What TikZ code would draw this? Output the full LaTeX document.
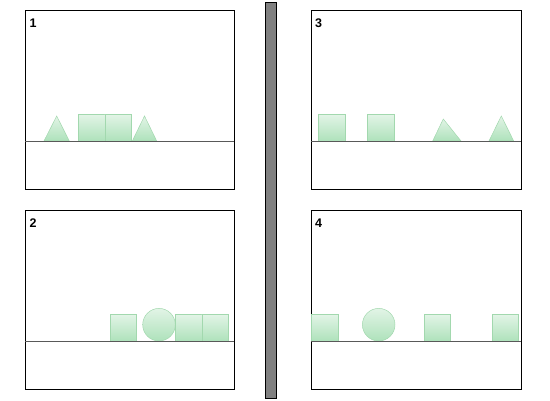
\documentclass[tikz,border=0pt]{standalone}
\usepackage{fontspec}
\setmainfont{Liberation Sans}
\definecolor{shtop}{HTML}{E2F4E6}
\definecolor{shbot}{HTML}{AEE2BB}
\definecolor{shedge}{HTML}{A2D8AE}
\tikzset{
  panel/.style={draw=black, line width=0.9pt},
  ground/.style={draw=black!65, line width=0.6pt},
  piece/.style={draw=shedge, line width=0.5pt, top color=shtop, bottom color=shbot},
  numlabel/.style={anchor=base west, inner sep=0pt, font=\fontsize{12.5}{14}\selectfont\bfseries},
  divider/.style={draw=black, line width=0.9pt, fill=black!50}
}
\begin{document}
\begin{tikzpicture}[x=1pt,y=1pt]
\useasboundingbox (0,0) rectangle (550,400);
% divider bar
\draw[divider] (265.3,1.7) rectangle (276.7,397.7);
% panel frames
\draw[panel] (25,211) rectangle (234.3,390);
\draw[panel] (311,211) rectangle (521,390);
\draw[panel] (25,11) rectangle (234.3,190);
\draw[panel] (311,11) rectangle (521,190);
% labels
\node[numlabel] (l1) at (29.5,372.3) {1};
\node[numlabel] (l3) at (315,372.3) {3};
\node[numlabel] (l2) at (29.5,172.3) {2};
\node[numlabel] (l4) at (315,172.3) {4};
% panel 1
\draw[piece] (44,259) -- (69.3,259) -- (56.7,284) -- cycle;
\draw[piece] (78.3,259) rectangle (104.9,285.7);
\draw[piece] (104.9,259) rectangle (131.5,285.7);
\draw[piece] (132.3,259) -- (156.7,259) -- (144.5,284) -- cycle;
\draw[ground] (25,259) -- (234.3,259);
% panel 3
\draw[piece] (318.3,259) rectangle (344.8,285.5);
\draw[piece] (367.7,259) rectangle (394.2,285.5);
\draw[piece] (432.7,259) -- (461,259) -- (443.3,281) -- cycle;
\draw[piece] (489,259) -- (513.7,259) -- (501.3,284) -- cycle;
\draw[ground] (311,259) -- (521,259);
% panel 2
\draw[piece] (110,59) rectangle (136.5,85.5);
\draw[piece] (159,75.3) circle (16.3);
\draw[piece] (175.3,59) rectangle (201.8,85.5);
\draw[piece] (201.8,59) rectangle (228.3,85.5);
\draw[ground] (25,59) -- (234.3,59);
% panel 4
\draw[piece] (311.7,59) rectangle (338.2,85.5);
\draw[piece] (378.7,75.3) circle (16.3);
\draw[piece] (424,59) rectangle (450.5,85.5);
\draw[piece] (492,59) rectangle (518.5,85.5);
\draw[ground] (311,59) -- (521,59);
\end{tikzpicture}
\end{document}
